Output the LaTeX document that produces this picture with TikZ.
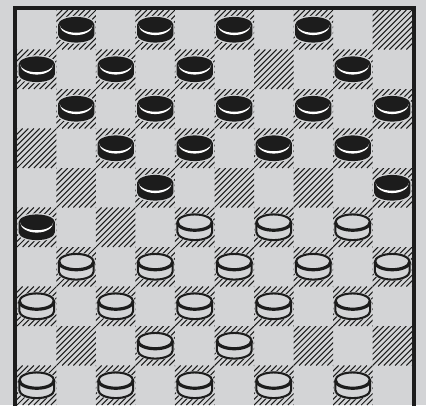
\documentclass[tikz,border=0pt]{standalone}
\definecolor{BoardGrey}{HTML}{D3D4D6}
\definecolor{PieceBlack}{HTML}{1C1C1C}

\begin{document}
\begin{tikzpicture}[x=1cm, y=1cm,
  hatch/.style={line width=0.75pt, PieceBlack},
  frame/.style={line width=1mm, PieceBlack},
  halo/.style={BoardGrey, line width=1.8pt},
  pics/blackman/.style={code={
    \draw[halo] (-0.46,0.125) -- (-0.46,-0.125) arc[start angle=180, end angle=360, x radius=0.46, y radius=0.2]
      -- (0.46,0.125) arc[start angle=0, end angle=180, x radius=0.46, y radius=0.2] -- cycle;
    \fill[PieceBlack] (-0.46,0.125) -- (-0.46,-0.125) arc[start angle=180, end angle=360, x radius=0.46, y radius=0.2]
      -- (0.46,0.125) arc[start angle=0, end angle=180, x radius=0.46, y radius=0.2] -- cycle;
    % light rim under the top face
    \fill[white] (-0.42,0.125) arc[start angle=180, end angle=360, x radius=0.42, y radius=0.2]
      arc[start angle=0, end angle=-180, x radius=0.42, y radius=0.26] -- cycle;
  }},
  pics/whiteman/.style={code={
    \draw[halo] (-0.46,0.125) -- (-0.46,-0.125) arc[start angle=180, end angle=360, x radius=0.46, y radius=0.2]
      -- (0.46,0.125) arc[start angle=0, end angle=180, x radius=0.46, y radius=0.2] -- cycle;
    \filldraw[fill=BoardGrey, draw=PieceBlack, line width=1.5pt] (-0.44,0.125) -- (-0.44,-0.125)
      arc[start angle=180, end angle=360, x radius=0.44, y radius=0.2]
      -- (0.44,0.125) arc[start angle=0, end angle=180, x radius=0.44, y radius=0.2] -- cycle;
    \draw[PieceBlack, line width=2.3pt] (-0.44,0.125) arc[start angle=180, end angle=360, x radius=0.44, y radius=0.2];
  }}]
  \path[use as bounding box, fill=BoardGrey] (-0.43,0) rectangle (10.354,10.253);

  % Dark squares
  \foreach \c in {1,...,10}
    \foreach \r in {1,...,10} {
      \pgfmathparse{int(mod(\c+\r,2))}
      \ifnum\pgfmathresult=1
        \begin{scope}
          \clip (\c-1,10-\r) rectangle ++(1,1);
          \foreach \k in {-7,...,7}
            \draw[hatch] (\c-1+\k/7,10-\r) -- ++(1,1);
        \end{scope}
      \fi
    }

  % Black pieces
  \foreach \c/\r in {2/1,4/1,6/1,8/1, 1/2,3/2,5/2,9/2, 2/3,4/3,6/3,8/3,10/3,
                     3/4,5/4,7/4,9/4, 4/5,10/5, 1/6}
    \pic at (\c-0.5,10.5-\r) {blackman};

  % White pieces
  \foreach \c/\r in {5/6,7/6,9/6, 2/7,4/7,6/7,8/7,10/7, 1/8,3/8,5/8,7/8,9/8,
                     4/9,6/9, 1/10,3/10,5/10,7/10,9/10}
    \pic at (\c-0.5,10.5-\r) {whiteman};

  % Frame
  \draw[frame] (-0.05,-0.3) -- (-0.05,10.05) -- (10.05,10.05) -- (10.05,-0.3);
\end{tikzpicture}
\end{document}
